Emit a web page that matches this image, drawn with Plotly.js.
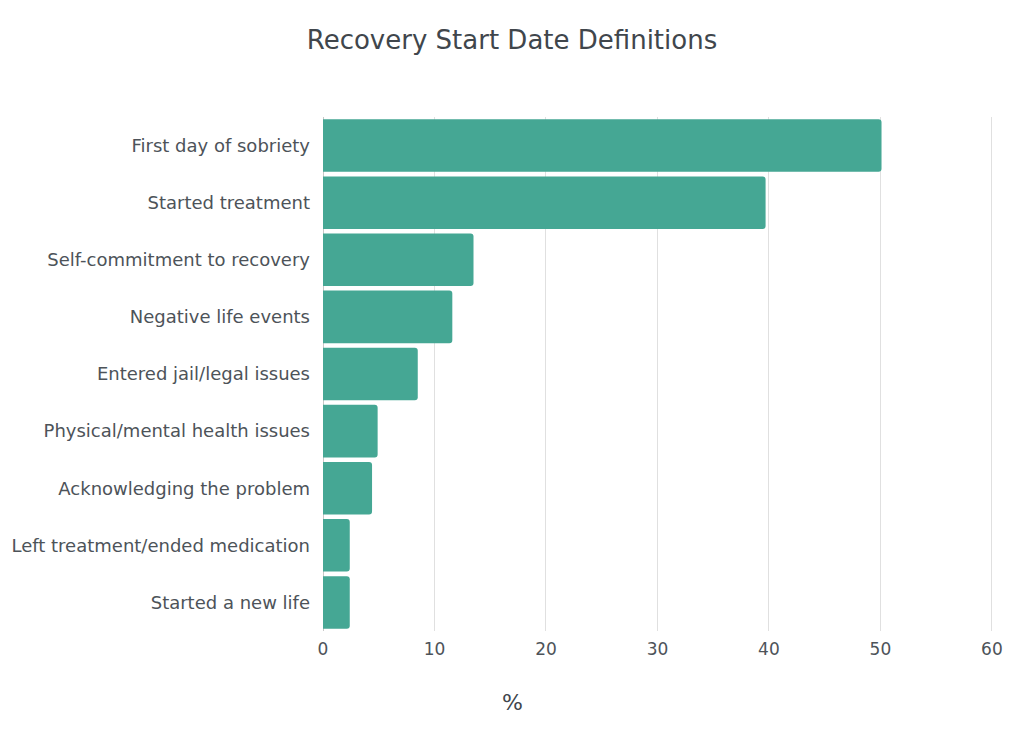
<!DOCTYPE html>
<html>
<head>
<meta charset="utf-8">
<script src="https://cdn.plot.ly/plotly-3.0.1.min.js"></script>
<style>
  html, body { margin: 0; padding: 0; background: #fff; }
  #chart { width: 1024px; height: 749px; }
</style>
</head>
<body>
<div id="chart"></div>
<script>
// Recovery start date definitions, percent of respondents
const categories = [
  'First day of sobriety',
  'Started treatment',
  'Self-commitment to recovery',
  'Negative life events',
  'Entered jail/legal issues',
  'Physical/mental health issues',
  'Acknowledging the problem',
  'Left treatment/ended medication',
  'Started a new life'
];
const percents = [50.1, 39.7, 13.5, 11.6, 8.5, 4.9, 4.4, 2.4, 2.4];
const xTicks = [0, 10, 20, 30, 40, 50, 60];

const textColor = '#4d5359';
const fontFamily = '"DejaVu Sans", sans-serif';

const trace = {
  type: 'bar',
  orientation: 'h',
  x: percents,
  y: categories,
  marker: { color: '#45a794' },
  hoverinfo: 'x+y'
};

const layout = {
  font: { family: fontFamily, size: 18, color: textColor },
  title: {
    text: 'Recovery Start Date Definitions',
    font: { size: 26, color: '#40464c' },
    x: 0.5, xanchor: 'center',
    y: 0.947, yanchor: 'middle'
  },
  margin: { t: 117, b: 118, l: 323, r: 31 },
  paper_bgcolor: '#fff',
  plot_bgcolor: '#fff',
  bargap: 0.08,
  barcornerradius: 3,
  showlegend: false,
  xaxis: {
    range: [0, 60.1],
    tickvals: xTicks,
    ticktext: xTicks.map(String),
    showgrid: true,
    gridcolor: '#e0e0e0',
    zeroline: true,
    zerolinecolor: '#c8c8c8',
    zerolinewidth: 1,
    ticks: '',
    ticklabelstandoff: 6,
    tickfont: { size: 17, color: textColor },
    fixedrange: true
  },
  yaxis: {
    type: 'category',
    autorange: 'reversed',
    ticks: '',
    ticklabelstandoff: 12,
    tickfont: { size: 18, color: textColor },
    showgrid: false,
    zeroline: false,
    fixedrange: true
  },
  // axis title sits centred on the page, not on the plot area
  annotations: [{
    text: '%',
    xref: 'paper', yref: 'paper',
    x: 0.5, xanchor: 'center',
    y: -0.14, yanchor: 'middle',
    showarrow: false,
    font: { size: 22, color: '#40464c' }
  }]
};

// paper x for the page centre (512px) given the margins
layout.annotations[0].x = (512 - layout.margin.l) / (1024 - layout.margin.l - layout.margin.r);

Plotly.newPlot('chart', [trace], layout, { displayModeBar: false, responsive: false });
</script>
</body>
</html>
